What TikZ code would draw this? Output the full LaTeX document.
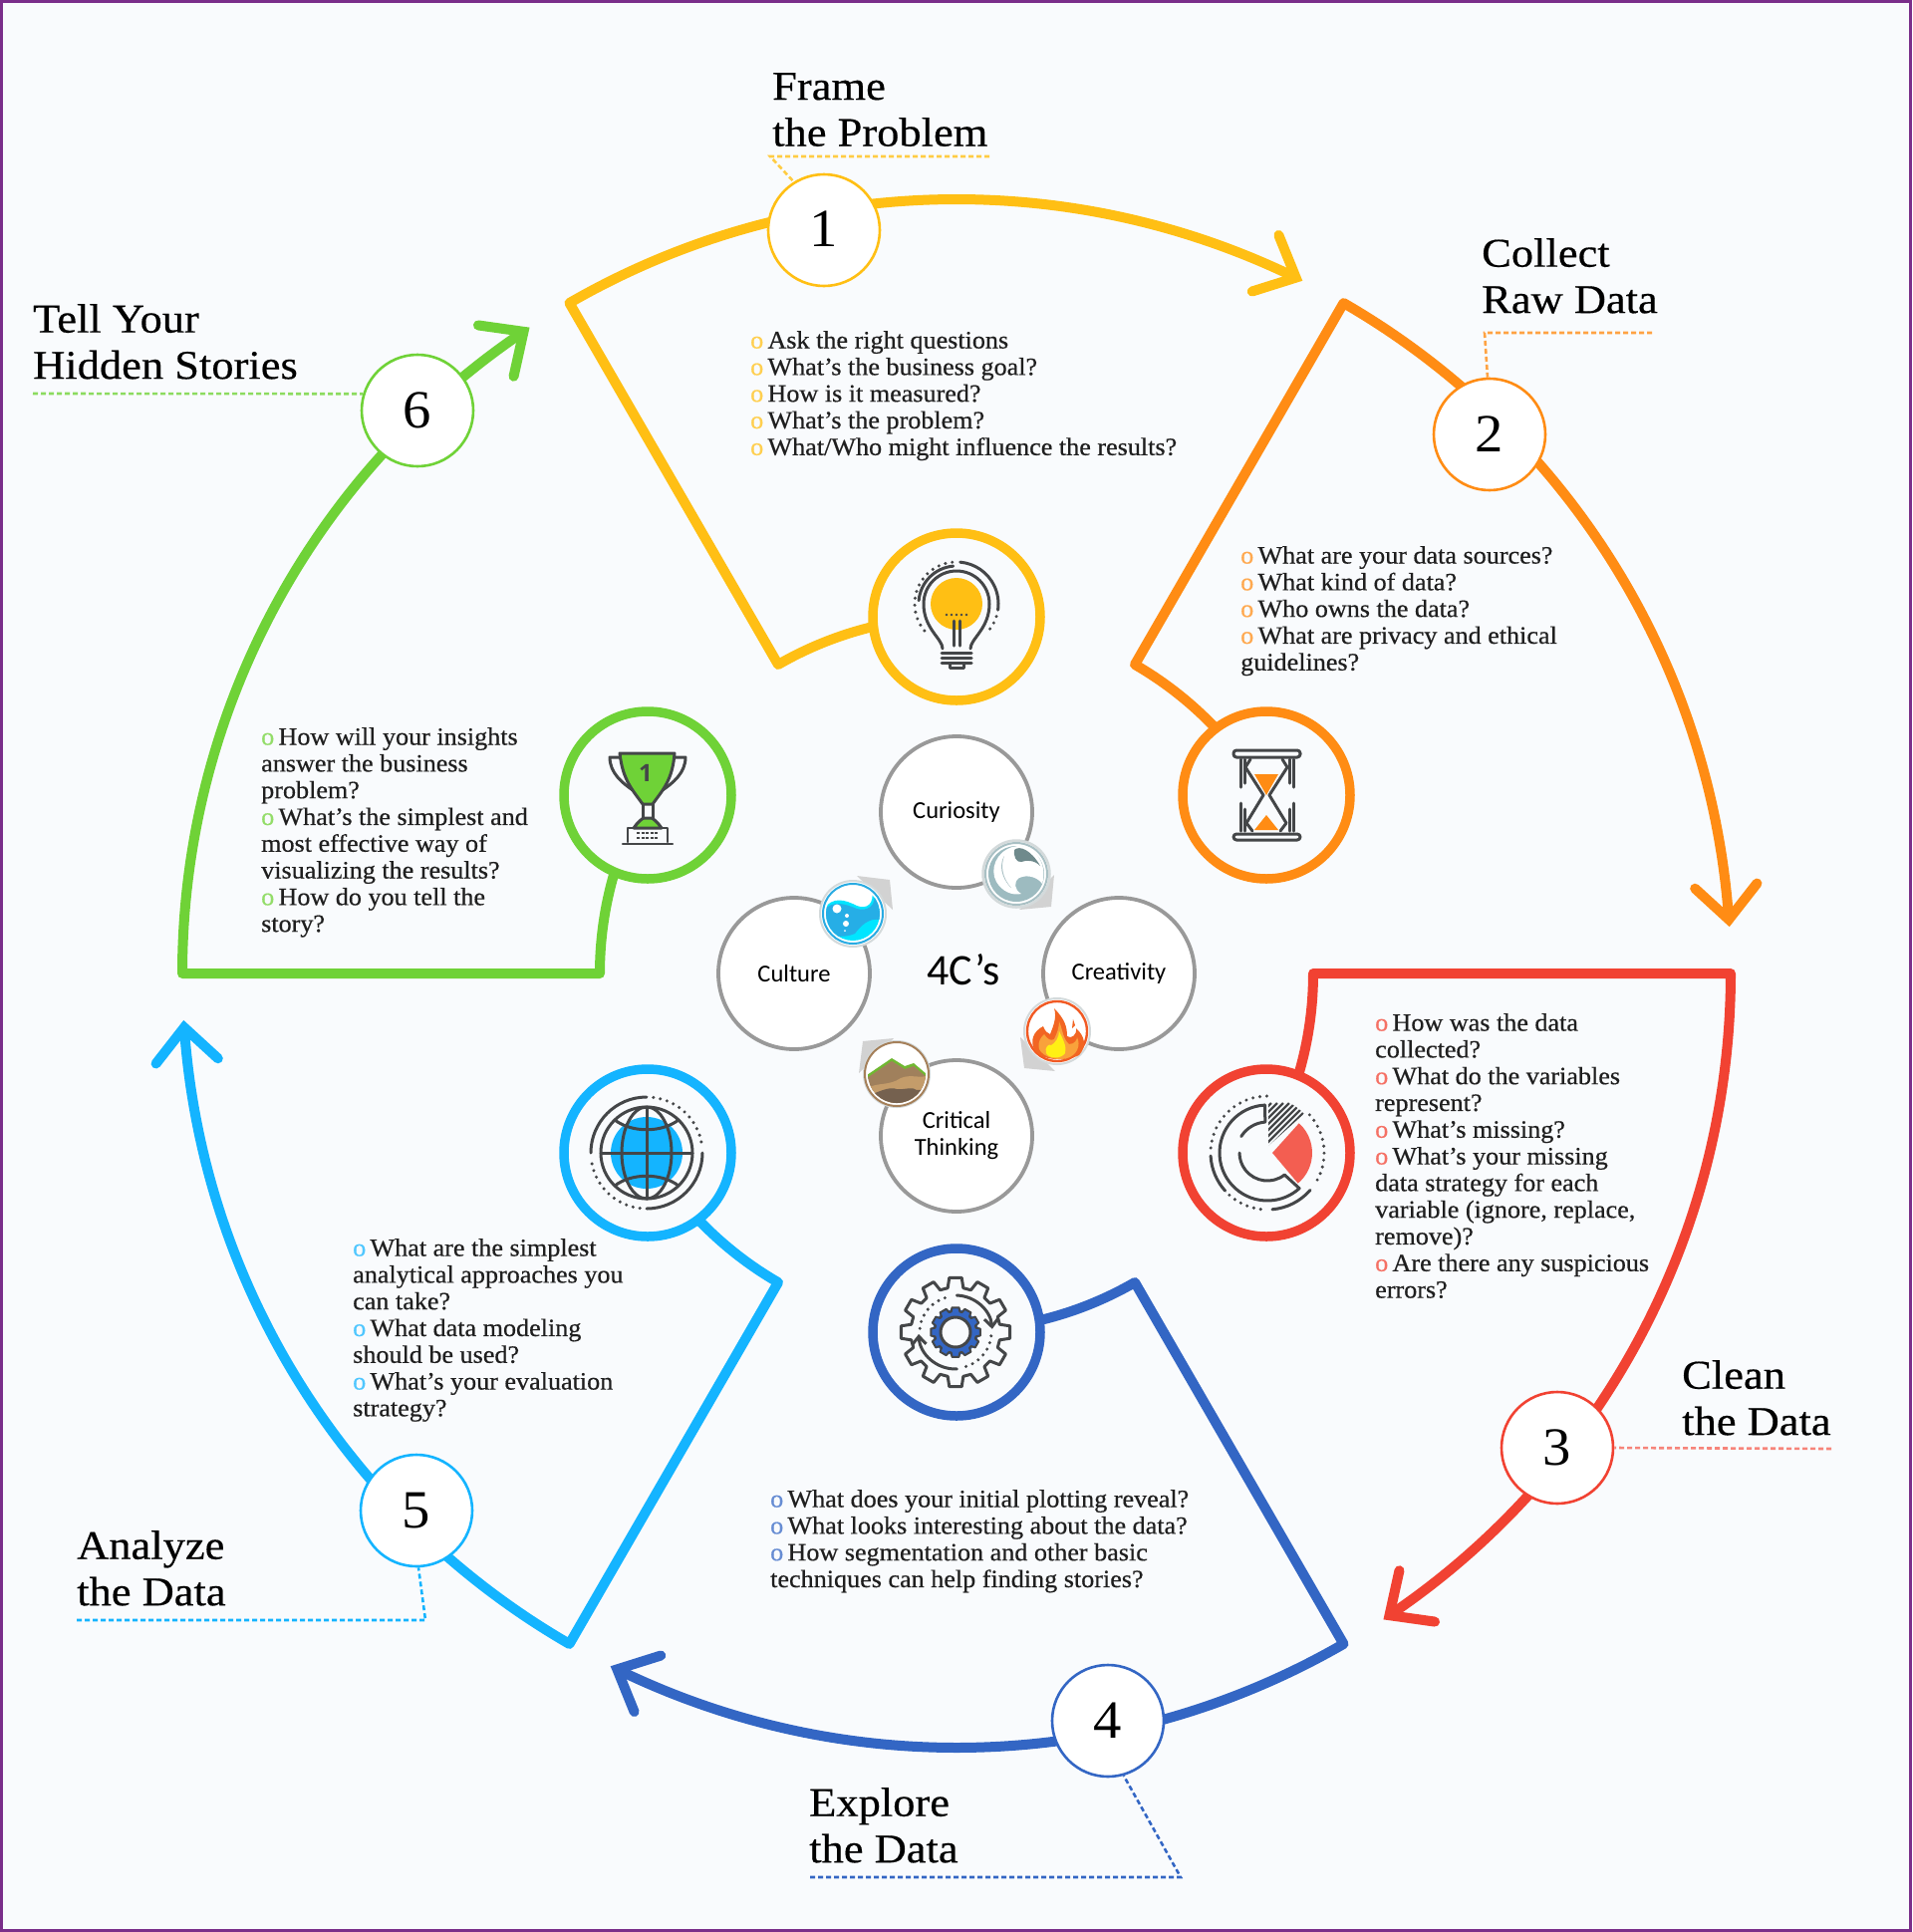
\documentclass[tikz,border=0pt]{standalone}
\usepackage{fontspec}
\usetikzlibrary{arrows.meta}
\newfontfamily\bodyf[FakeStretch=1.045,FakeBold=0.5]{Liberation Serif}
\newfontfamily\titlef[FakeStretch=1.085,FakeBold=0.4]{Liberation Serif}
\newfontfamily\numf[FakeStretch=1.05]{Liberation Serif}
\newfontfamily\calf{Carlito}
\newfontfamily\trophyf{Open Sans}
\definecolor{bgc}{HTML}{F9FBFD}
\definecolor{framec}{HTML}{7A2E8A}
\definecolor{yc}{HTML}{FFBF14}
\definecolor{oc}{HTML}{FF8C14}
\definecolor{rc}{HTML}{F14232}
\definecolor{bc}{HTML}{3366C4}
\definecolor{cc}{HTML}{14B4FF}
\definecolor{gc}{HTML}{6FD237}
\definecolor{dk}{HTML}{444648}
\definecolor{greyc}{HTML}{999999}
\definecolor{fragc}{HTML}{D2D2D2}
\definecolor{ringg}{HTML}{D4DADB}
\definecolor{swirlr}{HTML}{A9C0C4}
\definecolor{swirll}{HTML}{9DBBC0}
\definecolor{swirld}{HTML}{6F8A8C}
\definecolor{watr}{HTML}{29ABE2}
\definecolor{watb}{HTML}{26AEE6}
\definecolor{watc}{HTML}{00E5FF}
\definecolor{firer}{HTML}{F15A24}
\definecolor{fireo}{HTML}{F26522}
\definecolor{firem}{HTML}{F9A23B}
\definecolor{firey}{HTML}{FFF014}
\definecolor{earthr}{HTML}{A5805A}
\definecolor{earthg}{HTML}{70B832}
\definecolor{earthb}{HTML}{A0805C}
\definecolor{eartht}{HTML}{C49C6A}
\definecolor{earthd}{HTML}{75614F}
\newcommand{\bu}[1]{{\color{#1!75!white}o}\hspace{0.17em}}
\tikzset{
  arm/.style={line width=10pt,line join=round},
  chev/.style={line width=10pt,line join=miter,line cap=round},
  numc/.style={circle,draw,line width=2.6pt,fill=white,minimum size=112pt,inner sep=0pt,font=\numf\fontsize{54}{54}\selectfont,text=black},
  iconc/.style={circle,draw,line width=9.5pt,fill=bgc,minimum size=168pt,inner sep=0pt},
  cc4/.style={circle,draw=greyc,line width=3.8pt,fill=white,minimum size=152pt,inner sep=0pt,align=center,font=\calf\fontsize{24.5}{27}\selectfont,text=black},
  leader/.style={line width=2.6pt,dash pattern=on 5pt off 3pt},
  listt/.style={anchor=north west,inner sep=0pt,align=left,font=\bodyf\fontsize{25}{26.8}\selectfont,text={black!88},execute at begin node={\rule{0pt}{18pt}}},
  titlet/.style={anchor=north west,inner sep=0pt,align=left,font=\titlef\fontsize{41}{46.5}\selectfont,text=black,execute at begin node={\rule{0pt}{30pt}}},
  ic/.style={draw=dk,line width=3pt,line cap=round,line join=round},
  icdots/.style={draw=dk,line width=3.4pt,line cap=round,dash pattern=on 0pt off 7pt},
  frag/.style={fill=fragc,draw=none},
}
\begin{document}
\begin{tikzpicture}[x=1pt,y=-1pt]
\useasboundingbox (0,0) rectangle (1920,1939);
\fill[white] (0,0) rectangle (1920,1939);
\draw[framec,line width=3pt,fill=bgc] (1.5,1.5) rectangle (1917.5,1937.5);

% ---- spiral arms
\begin{scope}[shift={(960,977)}]
\foreach \a/\col in {240/yc,300/oc,0/rc,60/bc,120/cc,180/gc}{
  \coordinate (tip\a) at (\a+56:777);
  \draw[arm,\col] (tip\a) arc[start angle=\a+56,end angle=\a,radius=777] -- (\a:358) arc[start angle=\a,end angle=\a+30,radius=358];
  \draw[chev,\col] (tip\a) ++(\a+8:46) -- (tip\a) -- ++(\a-77.5:46);
}
\end{scope}

% ---- icon rings
\node[iconc,draw=yc] (ic1) at (960,619) {};
\node[iconc,draw=oc] (ic2) at (1271,798) {};
\node[iconc,draw=rc] (ic3) at (1271,1157) {};
\node[iconc,draw=bc] (ic4) at (960,1337) {};
\node[iconc,draw=cc] (ic5) at (650,1157) {};
\node[iconc,draw=gc] (ic6) at (650,798) {};

% ---- numbered circles
\node[numc,draw=yc] (n1) at (827,231) {\raisebox{3pt}{1}};
\node[numc,draw=oc] (n2) at (1495,436) {2};
\node[numc,draw=rc] (n3) at (1563,1453) {3};
\node[numc,draw=bc] (n4) at (1112,1727) {4};
\node[numc,draw=cc] (n5) at (418,1516) {5};
\node[numc,draw=gc] (n6) at (419,412) {6};

% ---- titles and leaders
\node[titlet] (t1) at (775,73) {Frame\\the Problem};
\node[titlet] (t2) at (1487,239) {Collect\\Raw Data};
\node[titlet] (t3) at (1688,1365) {Clean\\the Data};
\node[titlet] (t4) at (812,1794) {Explore\\the Data};
\node[titlet] (t5) at (77,1536) {Analyze\\the Data};
\node[titlet] (t6) at (33,305) {Tell Your\\Hidden Stories};

\coordinate (u1a) at (993,157); \coordinate (u1b) at (773,157);
\draw[leader,yc!80!white] (u1a) -- (u1b) -- (n1.122);
\coordinate (u2a) at (1658,334); \coordinate (u2b) at (1490,334);
\draw[leader,oc!80!white] (u2a) -- (u2b) -- (n2.92);
\coordinate (u3a) at (1838,1454);
\draw[leader,rc!65!white] (u3a) -- (n3.0);
\coordinate (u4a) at (813,1884); \coordinate (u4b) at (1185,1884);
\draw[leader,bc] (u4a) -- (u4b) -- (n4.-74);
\coordinate (u5a) at (77,1626); \coordinate (u5b) at (427,1626);
\draw[leader,cc] (u5a) -- (u5b) -- (n5.-88);
\coordinate (u6a) at (33,395);
\draw[leader,gc!80!white] (u6a) -- (n6.163);

% ---- question lists
\node[listt] (l1) at (753,332) {\bu{yc}Ask the right questions\\\bu{yc}What’s the business goal?\\\bu{yc}How is it measured?\\\bu{yc}What’s the problem?\\\bu{yc}What/Who might influence the results?};
\node[listt] (l2) at (1245,548) {\bu{oc}What are your data sources?\\\bu{oc}What kind of data?\\\bu{oc}Who owns the data?\\\bu{oc}What are privacy and ethical\\guidelines?};
\node[listt] (l3) at (1380,1017) {\bu{rc}How was the data\\collected?\\\bu{rc}What do the variables\\represent?\\\bu{rc}What’s missing?\\\bu{rc}What’s your missing\\data strategy for each\\variable (ignore, replace,\\remove)?\\\bu{rc}Are there any suspicious\\errors?};
\node[listt] (l4) at (773,1495) {\bu{bc}What does your initial plotting reveal?\\\bu{bc}What looks interesting about the data?\\\bu{bc}How segmentation and other basic\\techniques can help finding stories?};
\node[listt] (l5) at (354,1243) {\bu{cc}What are the simplest\\analytical approaches you\\can take?\\\bu{cc}What data modeling\\should be used?\\\bu{cc}What’s your evaluation\\strategy?};
\node[listt] (l6) at (262,730) {\bu{gc}How will your insights\\answer the business\\problem?\\\bu{gc}What’s the simplest and\\most effective way of\\visualizing the results?\\\bu{gc}How do you tell the\\story?};

% ---- bulb icon
\begin{scope}[shift={(960,619)}]
\fill[yc] (0,-13) circle (26);
\draw[ic] (-14,32) .. controls (-14,22) and (-33,12) .. (-33,-13) arc[start angle=180,end angle=360,radius=33] .. controls (33,12) and (14,22) .. (14,32);
\draw[ic] (0,-13) ++(185:38) arc[start angle=185,end angle=265,radius=38];
\draw[ic] (0,-13) ++(275:42) arc[start angle=275,end angle=368,radius=42];
\draw[icdots] (0,-13) ++(140:42) arc[start angle=140,end angle=265,radius=42];
\draw[icdots] (0,-13) ++(8:42) arc[start angle=8,end angle=45,radius=42];
\draw[ic] (-3,4) -- (-3,29) (3,4) -- (3,29);
\draw[ic] (-15,36) -- (15,36) (-15,41) -- (15,41) (-15,46) -- (15,46);
\draw[ic] (-7,47) -- (-7,51) -- (7,51) -- (7,47);
\draw[icdots,dash pattern=on 0pt off 5pt,line width=2.6pt] (-10,-2) -- (11,-2);
\end{scope}

% ---- hourglass icon
\begin{scope}[shift={(1271,798)}]
\fill[oc] (-12,-21) -- (12,-21) -- (0,0) -- cycle;
\fill[oc] (-12,35) -- (12,35) -- (0,20) -- cycle;
\draw[ic,rounded corners=3pt] (-33,-45) rectangle (34,-38);
\draw[ic,rounded corners=3pt] (-33,39) rectangle (34,45);
\draw[ic] (-26,-36) -- (-26,-8) (-22,-36) -- (-22,-12) (-26,8) -- (-26,36) (-22,14) -- (-22,36);
\draw[ic] (27,-36) -- (27,-8) (23,-36) -- (23,-12) (27,8) -- (27,36) (23,14) -- (23,36);
\draw[ic] (-16,-36) -- (-21,-28) -- (-3,0) -- (-20,28) -- (-14,36);
\draw[ic] (16,-36) -- (21,-28) -- (3,0) -- (20,28) -- (14,36);
\end{scope}

% ---- chart icon
\begin{scope}[shift={(1272,1157)}]
\fill[rc!85!white] (5,0) -- ++(-48:40) arc[start angle=-48,end angle=50,radius=40] -- cycle;
\begin{scope}
\clip (1,-7) -- ++(270:48) arc[start angle=270,end angle=318,radius=48] -- cycle;
\foreach \k in {-60,-54,...,60}{\draw[dk,line width=2.4pt] (\k-40,30) -- (\k+40,-50);}
\end{scope}
\draw[ic] (267:48) arc[start angle=267,end angle=48,radius=48] -- (52:28) arc[start angle=52,end angle=180,radius=28];
\draw[ic] (267:48) -- (266:31) arc[start angle=266,end angle=212,radius=31];
\draw[ic] (177:57) arc[start angle=177,end angle=138,radius=57];
\draw[ic] (85:57) arc[start angle=85,end angle=41,radius=57];
\draw[icdots] (185:57) arc[start angle=185,end angle=270,radius=57];
\draw[icdots] (318:57) arc[start angle=318,end angle=395,radius=57];
\draw[icdots] (132:57) arc[start angle=132,end angle=92,radius=57];
\end{scope}

% ---- gear icon
\begin{scope}[shift={(959,1337)}]
\draw[ic] (-6.5:55) \foreach \g in {0,30,...,330}{ -- (\g-6.5:55) -- (\g+6.5:55) -- (\g+10:45) -- (\g+20:45)} -- cycle;
\fill[bc] (0,0) circle (23);
\draw[ic,fill=bc,line width=2pt] (-8:25) \foreach \g in {0,30,...,330}{ -- (\g-8:25) -- (\g+8:25) -- (\g+12:21) -- (\g+18:21)} -- cycle;
\draw[ic,fill=bgc] (0,0) circle (15);
\draw[ic,-{Straight Barb[length=8pt,width=14pt]}] (272:37) arc[start angle=272,end angle=355,radius=37];
\draw[ic,-{Straight Barb[length=8pt,width=14pt]}] (88:37) arc[start angle=88,end angle=177,radius=37];
\draw[icdots] (186:36) arc[start angle=186,end angle=264,radius=36];
\draw[icdots] (6:36) arc[start angle=6,end angle=82,radius=36];
\end{scope}

% ---- globe icon
\begin{scope}[shift={(649,1157)}]
\fill[cc] (0,0) circle (36);
\draw[ic] (0,0) circle (46);
\draw[ic] (0,0) ellipse (25 and 46);
\draw[ic] (0,-46) -- (0,46) (-46,0) -- (46,0);
\draw[ic] (-32,-33) .. controls (-15,-20) and (15,-20) .. (32,-33);
\draw[ic] (-32,33) .. controls (-15,20) and (15,20) .. (32,33);
\draw[ic] (180:56) arc[start angle=180,end angle=270,radius=56];
\draw[ic] (0:56) arc[start angle=0,end angle=90,radius=56];
\draw[icdots] (277:56) arc[start angle=277,end angle=352,radius=56];
\draw[icdots] (97:56) arc[start angle=97,end angle=172,radius=56];
\end{scope}

% ---- trophy icon
\begin{scope}[shift={(650,798)}]
\draw[ic] (-28,-38) -- (-38,-38) .. controls (-38,-22) and (-25,-12) .. (-15,-5);
\draw[ic] (27,-38) -- (38,-38) .. controls (38,-22) and (25,-12) .. (15,-5);
\draw[ic,fill=gc] (-28,-42) -- (27,-42) .. controls (25,-15) and (15,-5) .. (5,9) -- (-5,9) .. controls (-15,-5) and (-25,-15) .. (-28,-42) -- cycle;
\draw[ic] (-5,9) -- (-5,23) (5,9) -- (5,23);
\draw[ic,fill=gc] (-14,33) .. controls (-10,27) and (-6,24) .. (-4,23) -- (4,23) .. controls (6,24) and (10,27) .. (14,33) -- cycle;
\draw[ic,line width=2.2pt] (-20,33) -- (20,33) -- (20,47) (-20,33) -- (-20,47) (-25,49) -- (25,49);
\draw[dk,line width=1.6pt,dash pattern=on 3pt off 1.5pt] (-11,38) -- (11,38) (-11,43) -- (11,43);
\node[font=\trophyf\bfseries\fontsize{24}{24}\selectfont,text=dk,inner sep=0pt] (trophynum) at (-2,-22) {1};
\end{scope}

% ---- 4C circles
\node[cc4] (c1) at (960,815) {Curiosity};
\node[cc4] (c2) at (1123,977) {Creativity};
\node[cc4] (c3) at (960,1140) {Critical\\Thinking};
\node[cc4] (c4) at (797,977) {Culture};
\node[font=\calf\fontsize{44}{44}\selectfont,text=black,inner sep=0pt] (cent) at (967,973) {4C’s};

% ---- wave badge
\fill[frag] (1058,878) -- (1055,910) -- (1023,913) -- cycle;
\begin{scope}[shift={(1020,877)}]
\draw[draw=ringg,line width=2.5pt,fill=white] (0,0) circle (33.5);
\draw[draw=swirlr,line width=2pt] (0,0) circle (31);
\fill[swirll] (0,0) circle (28);
\fill[white] (-4,-27) .. controls (-20,-22) and (-27,-5) .. (-20,8) .. controls (-14,18) and (-4,22) .. (5,20) .. controls (-2,16) and (-3,8) .. (3,4) .. controls (12,0) and (22,4) .. (26,10) .. controls (29,0) and (28,-14) .. (16,-24) .. controls (10,-28) and (3,-29) .. (-4,-27) -- cycle;
\fill[swirld] (-2,-24) .. controls (3,-29) and (15,-24) .. (24,-8) .. controls (18,-14) and (10,-14) .. (5,-12) .. controls (0,-11) and (-3,-18) .. (-2,-24) -- cycle;
\fill[swirlr] (-12,-18) .. controls (-20,-5) and (-10,10) .. (-5,14) .. controls (-14,4) and (-16,-8) .. (-12,-18) -- cycle;
\end{scope}

% ---- water badge
\fill[frag] (860,879) -- (893,883) -- (896,913) -- cycle;
\begin{scope}[shift={(856,917)}]
\draw[draw=ringg,line width=2pt,fill=white] (0,0) circle (33);
\draw[draw=watr,line width=2pt] (0,0) circle (30);
\begin{scope}
\clip (0,0) circle (27);
\fill[watc] (-30,-4) .. controls (-20,-18) and (-8,-14) .. (4,-8) .. controls (14,-4) and (22,-10) .. (19,-24) .. controls (30,-15) and (30,0) .. (30,30) -- (-30,30) -- cycle;
\fill[watb] (-30,-3) .. controls (-20,-14) and (-8,-10) .. (4,-5) .. controls (14,-2) and (24,-8) .. (21,-20) .. controls (27,-12) and (28,-2) .. (27,6) .. controls (16,4) and (8,12) .. (2,20) .. controls (-8,24) and (-18,24) .. (-30,18) -- cycle;
\end{scope}
\fill[white] (-16,-5) circle (4.5);
\fill[white] (-6,2) circle (2);
\fill[white] (-7,10) circle (3);
\fill[white] (-8,17) circle (1);
\end{scope}

% ---- fire badge
\fill[frag] (1024,1041) -- (1028,1072) -- (1059,1075) -- cycle;
\begin{scope}[shift={(1061,1035)}]
\draw[draw=ringg,line width=2pt,fill=white] (0,0) circle (33);
\draw[draw=firer,line width=2.4pt] (0,0) circle (30);
\fill[fireo] (-3,-23) .. controls (8,-12) and (10,-4) .. (10,5) .. controls (14,8) and (20,4) .. (19,-3) .. controls (28,5) and (30,15) .. (22,24) .. controls (10,30) and (-14,30) .. (-22,20) .. controls (-28,10) and (-24,0) .. (-14,-5) .. controls (-12,0) and (-10,2) .. (-7,3) .. controls (-4,-5) and (0,-14) .. (-3,-23) -- cycle;
\fill[firem] (2,-10) .. controls (6,0) and (6,8) .. (12,13) .. controls (18,13) and (20,8) .. (20,6) .. controls (24,14) and (20,24) .. (10,27) .. controls (0,30) and (-14,26) .. (-18,18) .. controls (-20,10) and (-16,6) .. (-13,3) .. controls (-10,8) and (-6,10) .. (-3,8) .. controls (0,2) and (2,-4) .. (2,-10) -- cycle;
\fill[firey] (2,0) .. controls (6,8) and (10,16) .. (8,22) .. controls (4,28) and (-8,28) .. (-11,22) .. controls (-13,16) and (-8,12) .. (-6,14) .. controls (-2,12) and (2,6) .. (2,0) -- cycle;
\fill[fireo] (16,-12) -- (18,-6) -- (15,-3) -- cycle;
\end{scope}

% ---- earth badge
\fill[frag] (897,1042) -- (866,1045) -- (862,1077) -- cycle;
\begin{scope}[shift={(900,1078)}]
\draw[draw=ringg,line width=2pt,fill=white] (0,0) circle (33);
\draw[draw=earthr,line width=2pt] (0,0) circle (32);
\begin{scope}
\clip (0,0) circle (29);
\fill[earthg] (-30,1) -- (-5,-16) -- (8,-8) -- (17,-11) -- (30,0) -- (30,5) -- (-30,5) -- cycle;
\fill[earthb] (-30,4) -- (-5,-13) -- (8,-5) -- (17,-8) -- (30,3) -- (30,30) -- (-30,30) -- cycle;
\fill[eartht] (-30,14) .. controls (-18,8) and (-8,12) .. (4,4) .. controls (14,0) and (20,4) .. (30,2) -- (30,30) -- (-30,30) -- cycle;
\fill[earthd] (-30,22) .. controls (-18,18) and (-8,12) .. (0,15) .. controls (8,16) and (16,12) .. (20,16) .. controls (24,16) and (28,14) .. (30,20) -- (30,30) -- (-30,30) -- cycle;
\end{scope}
\end{scope}
\end{tikzpicture}
\end{document}
